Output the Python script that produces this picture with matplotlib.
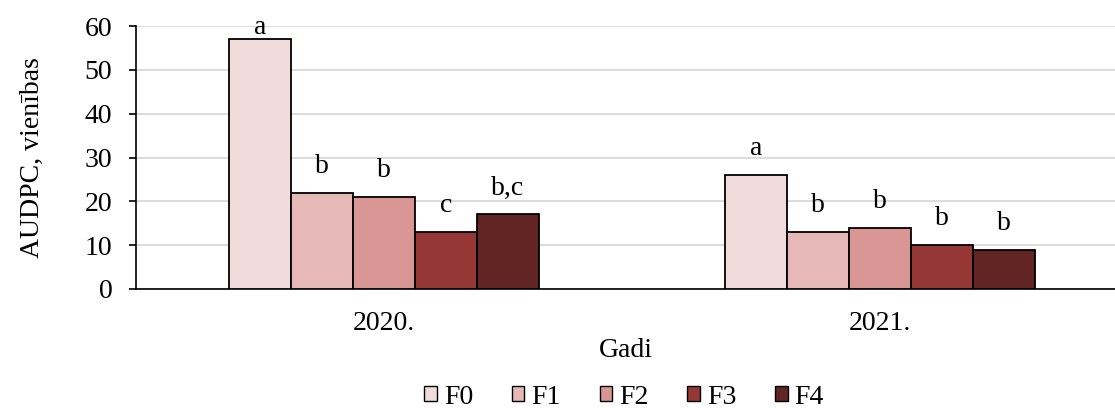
import matplotlib
matplotlib.use("Agg")
import matplotlib.pyplot as plt
import numpy as np

plt.rcParams['font.family'] = ['Liberation Serif', 'DejaVu Serif']

years = ["2020.", "2021."]
series = ["F0", "F1", "F2", "F3", "F4"]
values = {
    "F0": [57, 26],
    "F1": [22, 13],
    "F2": [21, 14],
    "F3": [13, 10],
    "F4": [17, 9],
}
letters = {
    "F0": ["a", "a"],
    "F1": ["b", "b"],
    "F2": ["b", "b"],
    "F3": ["c", "b"],
    "F4": ["b,c", "b"],
}
colors = ["#F2DCDB", "#E6B9B8", "#DA9694", "#953735", "#632523"]

FS = 20
W, H = 1115, 408
fig = plt.figure(figsize=(W / 100, H / 100), dpi=100)
ax = fig.add_axes([136 / W, (H - 289) / H, (W - 136) / W, (289 - 26) / H])

x = np.arange(len(years))
bw = 0.125
for i, (s, c) in enumerate(zip(series, colors)):
    pos = x + (i - 2) * bw
    ax.bar(pos, values[s], width=bw, color=c, edgecolor="black",
           linewidth=1.3, label=s, zorder=3)
    for p, v, t in zip(pos, values[s], letters[s]):
        ax.text(p, min(v + 6, 59.6), t, ha="center", va="center",
                fontsize=FS, color="black", zorder=4)

ax.set_xlim(-0.5, -0.5 + 979 / 496)
ax.set_ylim(0, 60)
ax.set_yticks(range(0, 61, 10))
ax.set_xticks(x)
ax.set_xticklabels(years)
ax.tick_params(axis="x", length=0, labelsize=FS, pad=16)
ax.tick_params(axis="y", length=5, width=1.2, labelsize=FS, direction="out", pad=12)
ax.yaxis.grid(True, color="#D9D9D9", linewidth=1.3, zorder=0)
ax.set_axisbelow(True)
for side in ["top", "right"]:
    ax.spines[side].set_visible(False)
ax.spines["left"].set_linewidth(1.2)
ax.spines["bottom"].set_linewidth(1.2)

ax.set_xlabel("Gadi", fontsize=FS, labelpad=1)
ax.set_ylabel("AUDPC, vienības", fontsize=FS, labelpad=29)

leg = fig.legend(loc="center", bbox_to_anchor=(624 / W, 1 - 397 / H), ncol=5,
                 frameon=False, fontsize=FS, handlelength=0.45, handleheight=0.45,
                 handletextpad=0.25, columnspacing=1.4, borderaxespad=0)
for h in leg.legend_handles:
    h.set_linewidth(1.0)

fig.savefig("out.png", dpi=100)
